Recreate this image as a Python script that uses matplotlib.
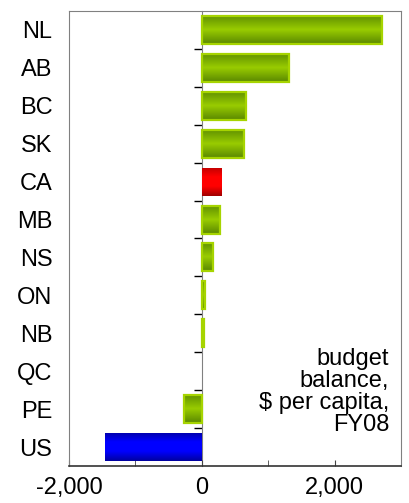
import numpy as np
import matplotlib
matplotlib.use('Agg')
import matplotlib.pyplot as plt
from matplotlib.colors import to_rgb
from matplotlib.ticker import FuncFormatter, MultipleLocator

plt.rcParams['font.family'] = ['Liberation Sans', 'DejaVu Sans']

# Data (budget balance, $ per capita, FY08)
regions = ['NL', 'AB', 'BC', 'SK', 'CA', 'MB', 'NS', 'ON', 'NB', 'QC', 'PE', 'US']
balance = [2710, 1310, 660, 640, 300, 280, 170, 55, 30, 0, -270, -1460]
kind = ['prov', 'prov', 'prov', 'prov', 'canada', 'prov', 'prov', 'prov', 'prov', 'prov', 'prov', 'us']

# gradient colours (edge, centre) and outline per bar kind
styles = {
    'prov': (['#5f8f00', '#99cc00', '#5a8800'], '#a6d400'),
    'canada': (['#c00000', '#ff0000', '#ff0000', '#a00000'], None),
    'us': (['#0000a8', '#0000ff', '#0000ff', '#0000a0'], None),
}

fig = plt.figure(figsize=(4.09, 5.03), dpi=100)
ax = fig.add_axes([0.1687, 0.0736, 0.8117, 0.9045])

y = np.arange(len(regions))
bars = ax.barh(y, balance, height=0.74, color='none', edgecolor='none')

for bar, k, v in zip(bars, kind, balance):
    if v == 0:
        continue
    cols, edge = styles[k]
    x0, y0 = bar.get_x(), bar.get_y()
    w, h = bar.get_width(), bar.get_height()
    stops = np.array([to_rgb(c) for c in cols])
    t = np.linspace(0, 1, 64)
    pos = np.linspace(0, 1, len(cols))
    grad = np.stack([np.interp(t, pos, stops[:, i]) for i in range(3)], axis=-1)
    img = ax.imshow(grad[:, None, :], extent=[x0, x0 + w, y0 + h, y0],
                    aspect='auto', interpolation='bilinear', zorder=2)
    img.set_clip_path(bar)
    if edge is not None:
        bar.set_edgecolor(edge)
        bar.set_linewidth(1.6)
        bar.set_zorder(3)

ax.set_xlim(-2000, 3000)
ax.set_ylim(len(regions) - 0.5, -0.5)

ax.set_yticks(y)
ax.set_yticklabels(regions)
ax.tick_params(axis='y', length=0, pad=12, labelsize=17)

ax.xaxis.set_major_locator(MultipleLocator(2000))
ax.xaxis.set_minor_locator(MultipleLocator(1000))
ax.xaxis.set_major_formatter(FuncFormatter(lambda v, p: f'{v:,.0f}'))
ax.tick_params(axis='x', which='both', direction='in', length=4, color='#444444',
               labelsize=17, pad=8)

for side in ['left', 'right', 'top']:
    ax.spines[side].set_color('#808080')
ax.spines['bottom'].set_color('#333333')
ax.spines['bottom'].set_linewidth(1.2)

# zero line with category-separating ticks
sec = ax.secondary_yaxis(0.4)
sec.set_yticks(y[:-1] + 0.5)
sec.set_yticklabels([])
sec.tick_params(axis='y', direction='out', length=6, width=1, color='black')
sec.spines['left'].set_color('#808080')
sec.spines['left'].set_zorder(4)

ax.text(0.964, 0.163, 'budget\nbalance,\n$ per capita,\nFY08', transform=ax.transAxes,
        ha='right', va='center', fontsize=17, linespacing=1.0)

fig.savefig('out.png', dpi=100)
